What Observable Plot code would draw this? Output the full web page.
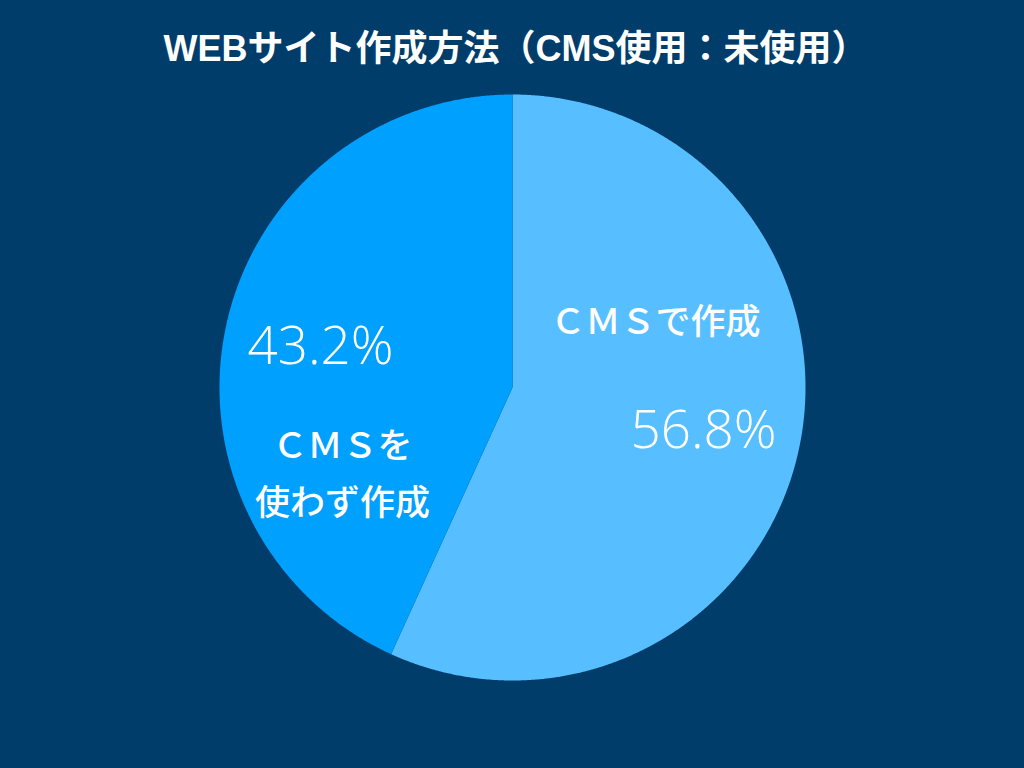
<!DOCTYPE html>
<html>
<head>
<meta charset="utf-8">
<script src="https://cdn.jsdelivr.net/npm/d3@7"></script>
<script src="https://cdn.jsdelivr.net/npm/@observablehq/plot@0.6"></script>
<style>
  html, body { margin: 0; padding: 0; background: #003D6B; }
  #chart { width: 1024px; height: 768px; }
</style>
</head>
<body>
<div id="chart"></div>
<script>
const title = "WEBサイト作成方法（CMS使用：未使用）";
const categories = ["ＣＭＳで作成", "ＣＭＳを\n使わず作成"];
const values = [56.8, 43.2];
const percentLabels = ["56.8%", "43.2%"];
const sliceColors = ["#57BFFF", "#00A0FF"];

// layout constants (pixels relative to pie centre)
const R = 293, CX = 512, CY = 387;
const nameOffsets = [[143, 72], [-170, -81]];
const pctOffsets = [[191, -44], [-192, 40]];

const pie = d3.pie().sort(null).value(d => d.value);
const rows = categories.map((c, i) => ({name: c, value: values[i], pct: percentLabels[i]}));
const arcs = pie(rows);

const features = arcs.map(a => {
  const ring = [[0, 0]];
  const n = Math.max(2, Math.ceil((a.endAngle - a.startAngle) / (Math.PI / 720)));
  for (let k = 0; k <= n; k++) {
    const t = a.startAngle + (a.endAngle - a.startAngle) * k / n;
    ring.push([Math.sin(t), Math.cos(t)]);
  }
  ring.push([0, 0]);
  return {type: "Feature", properties: {name: a.data.name}, geometry: {type: "Polygon", coordinates: [ring]}};
});

const nameRows = rows.map((r, i) => ({text: r.name, x: nameOffsets[i][0] / R, y: nameOffsets[i][1] / R}));
const pctRows = rows.map((r, i) => ({text: r.pct, x: pctOffsets[i][0] / R, y: pctOffsets[i][1] / R}));

const projection = d3.geoIdentity().reflectY(true).scale(R).translate([CX, CY]);

const chart = Plot.plot({
  width: 1024,
  height: 768,
  margin: 0,
  style: {background: "#003D6B", color: "white"},
  projection: () => projection,
  color: {domain: categories, range: sliceColors},
  marks: [
    Plot.geo(features, {fill: d => d.properties.name, stroke: null}),
    Plot.text(nameRows, {
      x: "x", y: "y", text: "text", fill: "white",
      fontSize: 35, fontWeight: 500, lineHeight: 1.63,
      fontFamily: "'Noto Sans CJK JP', sans-serif"
    }),
    Plot.text(pctRows, {
      x: "x", y: "y", text: "text", fill: "white",
      fontSize: 53, fontWeight: 300,
      fontFamily: "'Open Sans', Roboto, sans-serif"
    }),
    Plot.text([title], {
      frameAnchor: "top", dy: 35, dx: 3, fill: "white",
      fontSize: 36, fontWeight: "bold",
      fontFamily: "'Liberation Sans', 'Noto Sans CJK JP', sans-serif"
    })
  ]
});
document.getElementById("chart").appendChild(chart);
</script>
</body>
</html>
